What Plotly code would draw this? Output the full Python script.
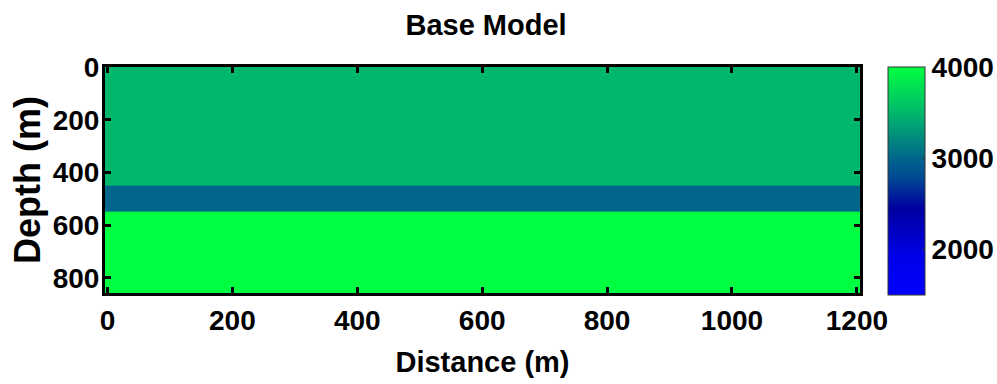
import plotly.graph_objects as go

# ---- data ----
distance_edges = [-5, 1205]                 # model extent (m)
depth_edges = [-2.5, 450, 550, 860]         # layer boundaries (m)
layer_velocity = [3500, 3000, 4000]         # m/s per layer
x_ticks = [0, 200, 400, 600, 800, 1000, 1200]
y_ticks = [0, 200, 400, 600, 800]
cbar_ticks = [2000, 3000, 4000]
vmin, vmax = 1500, 4000

z = [[v] for v in layer_velocity]

def t(v):
    return (v - vmin) / (vmax - vmin)

colorscale = [
    [0.0, "rgb(0,0,255)"],
    [t(1900), "rgb(0,0,235)"],
    [t(2450), "rgb(0,0,160)"],
    [t(2800), "rgb(0,75,145)"],
    [t(3000), "rgb(0,102,140)"],
    [t(3500), "rgb(0,184,107)"],
    [1.0, "rgb(0,255,64)"],
]

FONT = "Liberation Sans, Arial, sans-serif"

fig = go.Figure(
    go.Heatmap(
        x=distance_edges,
        y=depth_edges,
        z=z,
        zmin=vmin,
        zmax=vmax,
        colorscale=colorscale,
        colorbar=dict(
            x=1.037, xanchor="left", xref="paper",
            y=1.0, yanchor="top", len=1.01, lenmode="fraction",
            thickness=37, thicknessmode="pixels",
            outlinewidth=1, outlinecolor="#333",
            tickvals=cbar_ticks, ticks="inside", ticklen=3, tickcolor="#333",
            tickfont=dict(family=FONT, size=28, color="black", weight="bold"),
            ypad=0, xpad=0,
        ),
        hoverinfo="skip",
    )
)

axis_common = dict(
    showline=True, linecolor="black", linewidth=3, mirror="ticks",
    ticks="inside", ticklen=6, tickwidth=3, tickcolor="black",
    showgrid=False, zeroline=False,
    tickfont=dict(family=FONT, size=28, color="black", weight="bold"),
)

fig.update_layout(
    width=997, height=384,
    margin=dict(l=105, r=137, t=67, b=91, autoexpand=False),
    paper_bgcolor="white", plot_bgcolor="white",
    title=dict(text="Base Model", x=0.4875, xanchor="center", y=0.935, yanchor="middle",
               font=dict(family=FONT, size=29, color="black", weight="bold")),
    xaxis=dict(range=[-4, 1205], tickvals=x_ticks,
               title=dict(text="Distance (m)", standoff=18,
                          font=dict(family=FONT, size=29, color="black", weight="bold")),
               **axis_common),
    yaxis=dict(range=[858, -1], tickvals=y_ticks, ticklabelstandoff=-3,
               title=dict(text="Depth (m)", standoff=2,
                          font=dict(family=FONT, size=36, color="black", weight="bold")),
               **axis_common),
)

fig.write_html("out.html")
